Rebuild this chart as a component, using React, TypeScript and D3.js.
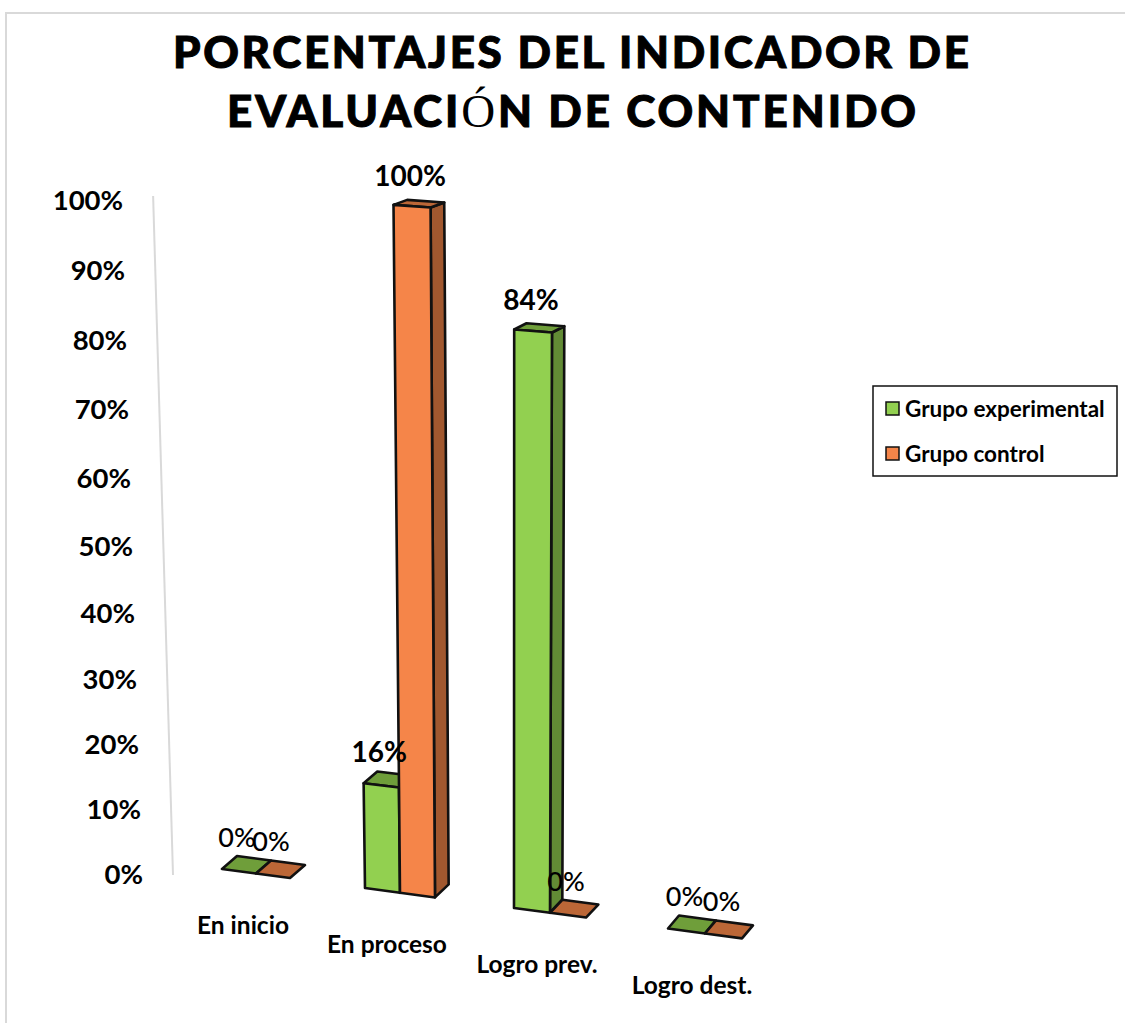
import React from "react";
import * as d3 from "d3";

const titleLines = ["PORCENTAJES DEL INDICADOR DE", "EVALUACIÓN DE CONTENIDO"];
const categories = ["En inicio", "En proceso", "Logro prev.", "Logro dest."];
const seriesNames = ["Grupo experimental", "Grupo control"];
const experimental = [0, 16, 84, 0];
const control = [0, 100, 0, 0];
const ticks = [0, 10, 20, 30, 40, 50, 60, 70, 80, 90, 100];

const FRONT = ["#92D050", "#F58549"];
const TOP = ["#6F9E3A", "#BC6737"];
const SIDE = ["#628B35", "#A1582F"];
const FONT = "Lato, Carlito, sans-serif";

// oblique perspective of the original 3-D chart
const xFloor = d3.scaleLinear().domain([0, 1, 2, 3]).range([222, 365, 514, 668]);
const barWidth = d3.scaleLinear().domain([0, 3]).range([34, 37]);
const depthX = d3.scaleLinear().domain([0, 3]).range([15, 11]);
const depthY = d3.scaleLinear().domain([0, 100]).range([-13, -5]);
const floorY = d3.scaleLinear().domain([222, 668]).range([869, 928.5]);
const rise = (v: number) => (6.39 * v) / (1 - 0.00052 * v);
const growth = d3.scaleLinear().domain([170, 533]).range([1, 1.0323]);
const lean = (x: number, v: number) => (0.059 * (x - 510) * v) / 100;

type P = [number, number];
const project = (x: number, v: number): P => [x + lean(x, v), floorY(x) - rise(v) * growth(x)];
const back = (p: P, i: number, v: number): P => [p[0] + depthX(i), p[1] + depthY(v)];
const poly = (pts: P[]) => d3.line()(pts)! + "Z";

function Bar({ i, s, v }: { i: number; s: number; v: number }) {
  const w = barWidth(i);
  const x0 = xFloor(i) + s * w;
  const x1 = x0 + w;
  const fb0 = project(x0, 0);
  const fb1 = project(x1, 0);
  const ft0 = project(x0, v);
  const ft1 = project(x1, v);
  const stroke = { stroke: "#111", strokeWidth: 2.6, strokeLinejoin: "round" as const };
  return (
    <g>
      {v > 0 && (
        <path d={poly([fb1, ft1, back(ft1, i, v), back(fb1, i, 0)])} fill={SIDE[s]} {...stroke} />
      )}
      <path d={poly([ft0, ft1, back(ft1, i, v), back(ft0, i, v)])} fill={TOP[s]} {...stroke} />
      {v > 0 && <path d={poly([fb0, fb1, ft1, ft0])} fill={FRONT[s]} {...stroke} />}
    </g>
  );
}

export default function App() {
  const series = [experimental, control];
  return (
    <svg
      width={1125}
      height={1023}
      style={{ position: "absolute", left: 0, top: 0, background: "#fff" }}
    >
      <path d="M6,1023V13H1125" fill="none" stroke="#d9d9d9" strokeWidth={2} />

      {titleLines.map((line, k) => {
        const [a, b] = k === 1 ? line.split("Ó") : [line, null];
        return (
          <text
            key={k}
            x={k === 0 ? 173 : 227}
            y={k === 0 ? 68 : 127}
            textLength={k === 0 ? 796 : 689}
            lengthAdjust="spacing"
            fontFamily={FONT}
            fontWeight={900}
            fontSize={44}
            stroke="#000"
            strokeWidth={1}
            fill="#000"
          >
            {b === null ? (
              line
            ) : (
              <>
                {a}
                <tspan fontFamily="'Liberation Serif', serif" fontWeight={400} fontSize={47} strokeWidth={0}>Ó</tspan>
                {b}
              </>
            )}
          </text>
        );
      })}

      {/* value axis */}
      <line
        x1={173}
        y1={875}
        x2={173 + lean(173, 100)}
        y2={875 - rise(100) - 5}
        stroke="#d9d9d9"
        strokeWidth={2}
      />
      {ticks.map((t) => (
        <text
          key={t}
          x={143 + lean(173, t)}
          y={874 - rise(t)}
          dy="0.35em"
          textAnchor="end"
          fontFamily={FONT}
          fontWeight={700}
          fontSize={27.5}
          fill="#000"
        >
          {t}%
        </text>
      ))}

      {categories.map((_, i) =>
        series.map((vals, s) => <Bar key={`${i}-${s}`} i={i} s={s} v={vals[i]} />)
      )}

      {categories.map((c, i) => {
        const cx = xFloor(i) + barWidth(i);
        return (
          <text
            key={c}
            x={cx - 13}
            y={project(cx, 0)[1] + 52}
            dy="0.35em"
            textAnchor="middle"
            fontFamily={FONT}
            fontWeight={700}
            fontSize={24.5}
            fill="#000"
          >
            {c}
          </text>
        );
      })}

      {categories.map((_, i) =>
        series.map((vals, s) => {
          const v = vals[i];
          const w = barWidth(i);
          const x0 = xFloor(i) + s * w;
          const top0 = project(x0, v);
          const top1 = project(x0 + w, v);
          return (
            <text
              key={`l${i}-${s}`}
              x={(top0[0] + top1[0]) / 2 - 2}
              y={(top0[1] + top1[1]) / 2 - 34 + (4 * v) / 100}
              dy="0.35em"
              textAnchor="middle"
              fontFamily={FONT}
              fontWeight={v > 0 ? 700 : 500}
              fontSize={v > 0 ? 28 : 27}
              fill="#000"
            >
              {v}%
            </text>
          );
        })
      )}

      <g>
        <rect x={873} y={386} width={244} height={90} fill="#fff" stroke="#111" strokeWidth={1.5} />
        {seriesNames.map((n, s) => (
          <g key={n} transform={`translate(0,${409 + s * 45})`}>
            <rect x={886} y={-7} width={13} height={13} fill={FRONT[s]} stroke="#111" strokeWidth={1.5} />
            <text
              x={905}
              y={0}
              dy="0.35em"
              fontFamily={FONT}
              fontWeight={700}
              fontSize={22.5}
              fill="#000"
            >
              {n}
            </text>
          </g>
        ))}
      </g>
    </svg>
  );
}
